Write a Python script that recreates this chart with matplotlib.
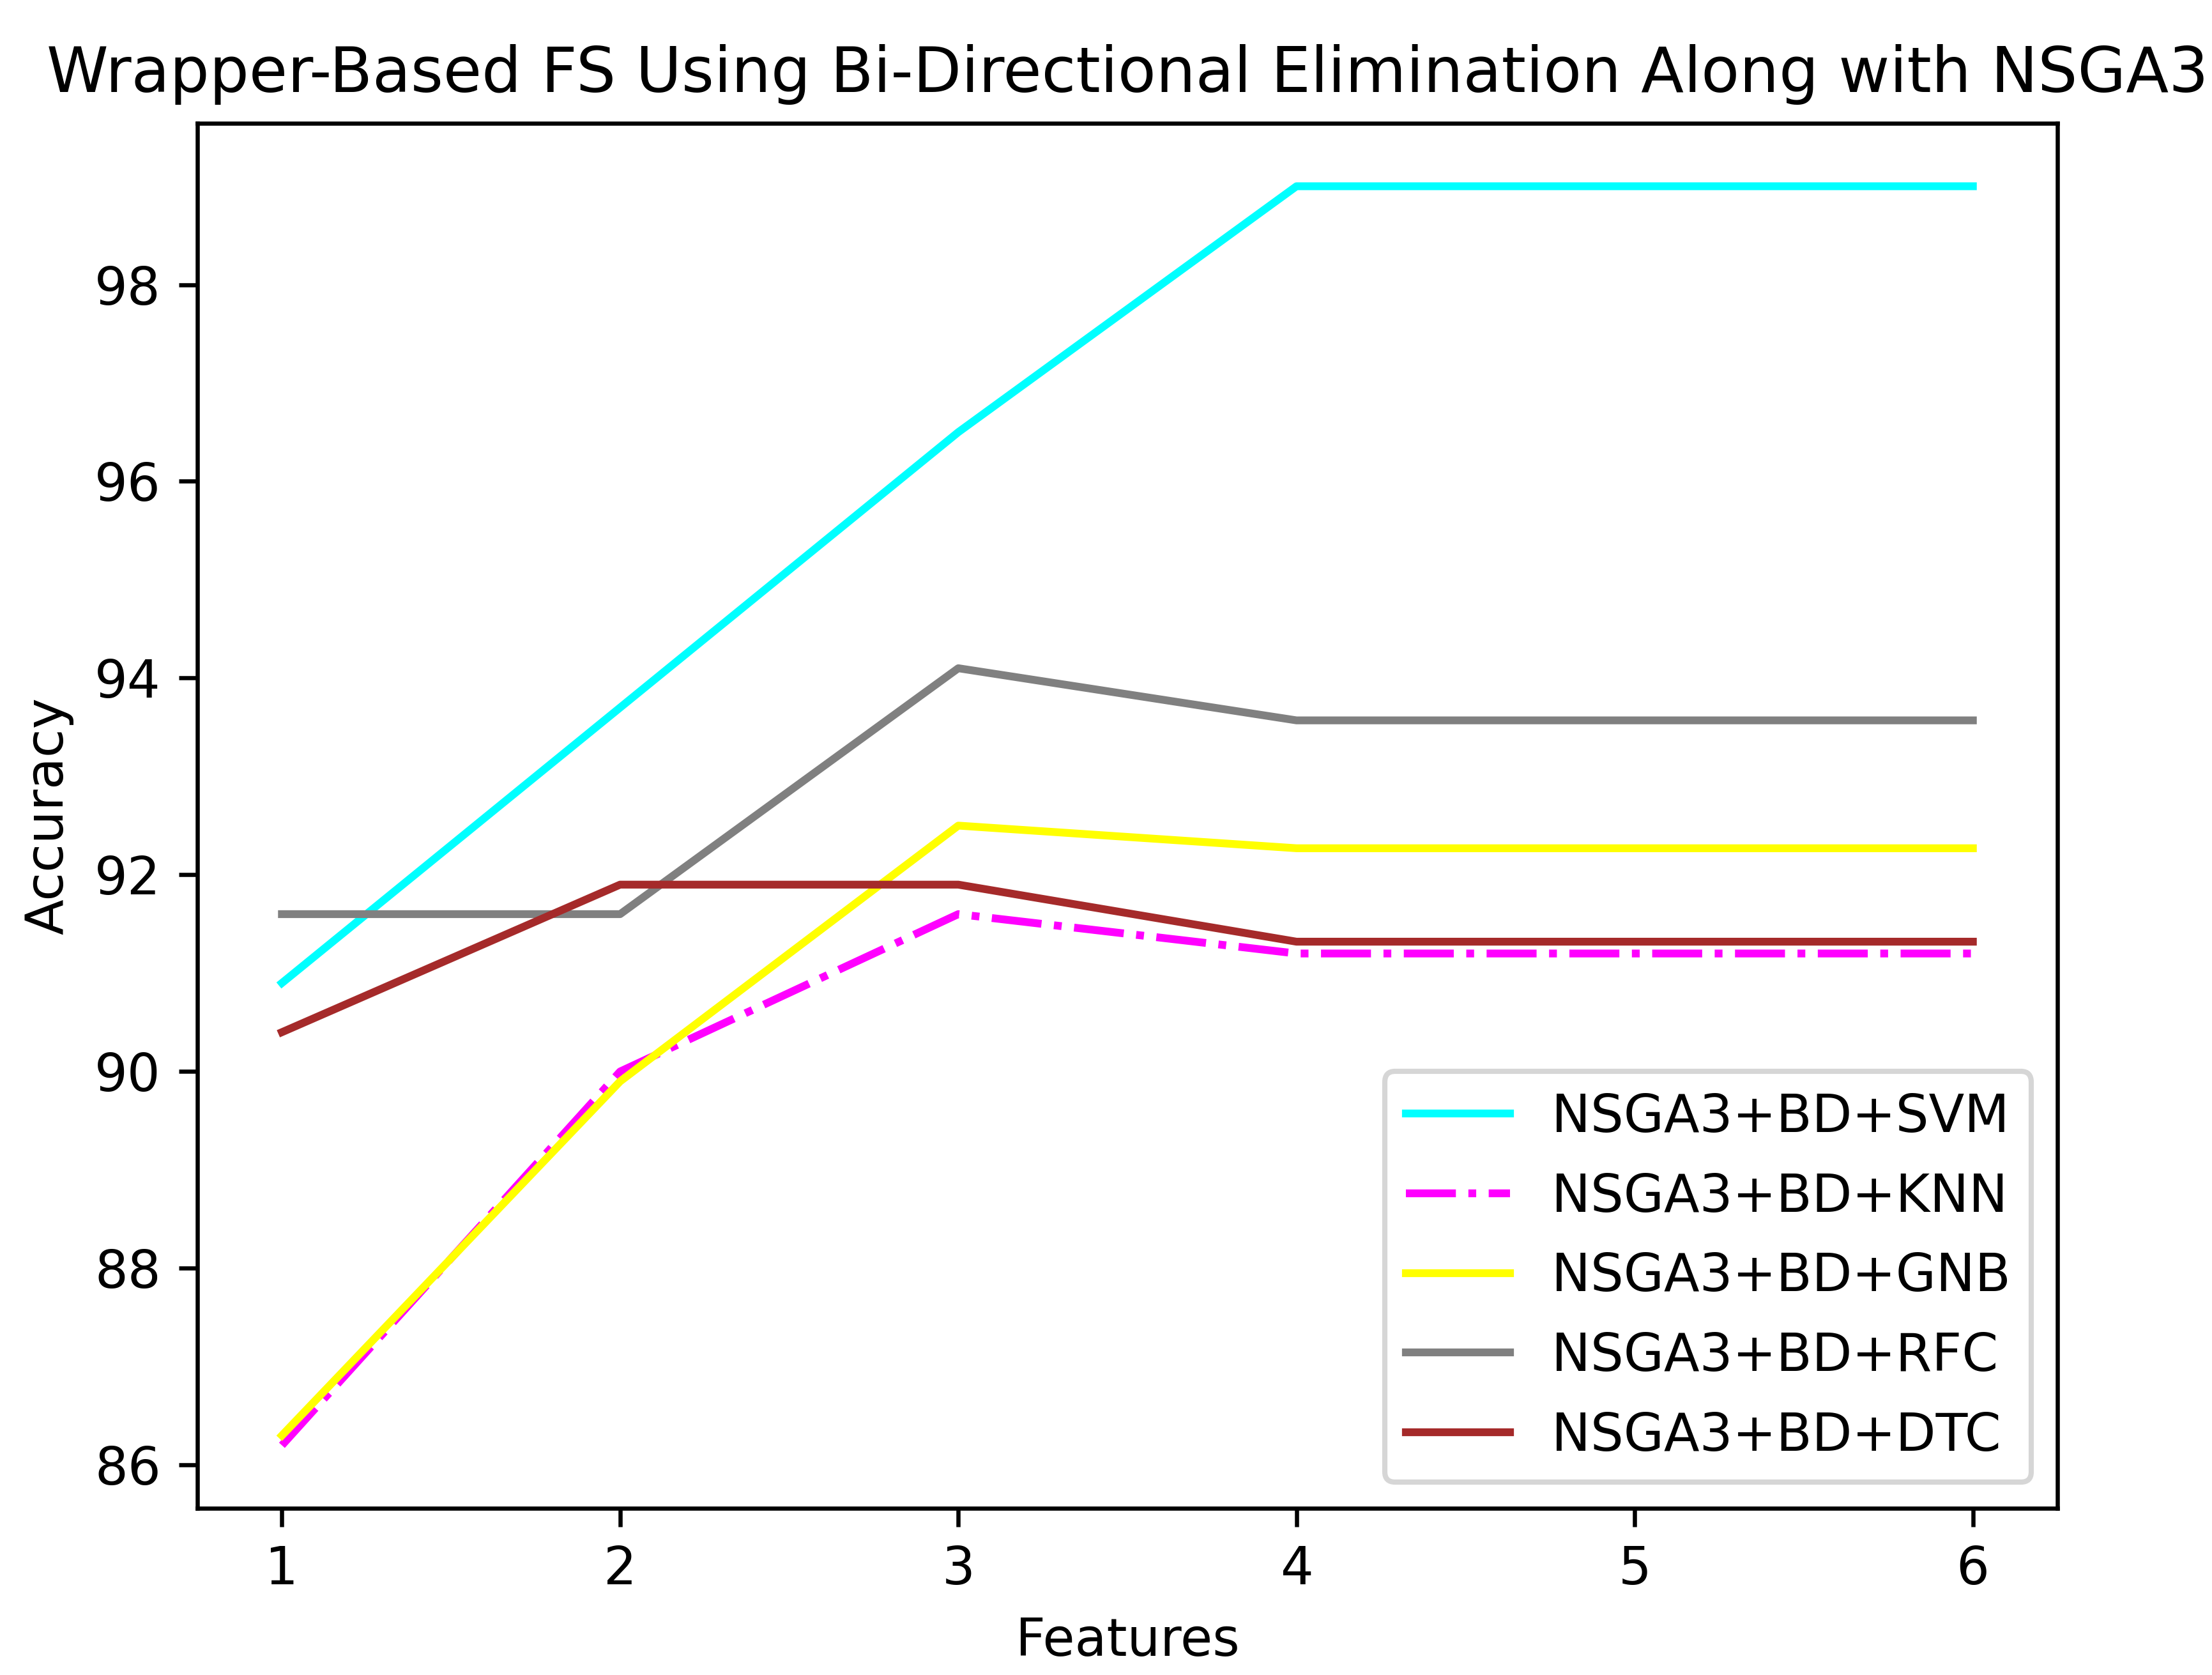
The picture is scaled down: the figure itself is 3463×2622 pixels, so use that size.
import matplotlib
matplotlib.use("Agg")
import matplotlib.pyplot as plt

# cantidad de features seleccionadas
features = [1, 2, 3, 4, 5, 6]

acc_svm = [90.9, 93.7, 96.5, 99.0, 99.0, 99.0]
acc_knn = [86.2, 90.0, 91.6, 91.2, 91.2, 91.2]
acc_gnb = [86.3, 89.9, 92.5, 92.27, 92.27, 92.27]
acc_rfc = [91.6, 91.6, 94.1, 93.57, 93.57, 93.57]
acc_dtc = [90.4, 91.9, 91.9, 91.32, 91.32, 91.32]

etiquetas = ["NSGA3+BD+SVM", "NSGA3+BD+KNN", "NSGA3+BD+GNB",
             "NSGA3+BD+RFC", "NSGA3+BD+DTC"]

DPI = 587
W, H = 3463, 2622


def main():
    fig = plt.figure(figsize=(W / DPI, H / DPI), dpi=DPI)
    ax = fig.add_axes([309 / W, (H - 2361) / H, (3221 - 309) / W, (2361 - 193) / H])

    ax.plot(features, acc_svm, color="cyan", label=etiquetas[0])
    ax.plot(features, acc_knn, color="magenta", linestyle="-.", label=etiquetas[1])
    ax.plot(features, acc_gnb, color="yellow", label=etiquetas[2])
    ax.plot(features, acc_rfc, color="grey", label=etiquetas[3])
    ax.plot(features, acc_dtc, color="brown", label=etiquetas[4])

    ax.set_title("Wrapper-Based FS Using Bi-Directional Elimination Along with NSGA3")
    ax.set_xlabel("Features")
    ax.set_ylabel("Accuracy")
    ax.legend(loc="lower right", labelspacing=0.56)

    fig.savefig("out.png", dpi=DPI)
    plt.close(fig)


if __name__ == "__main__":
    main()
